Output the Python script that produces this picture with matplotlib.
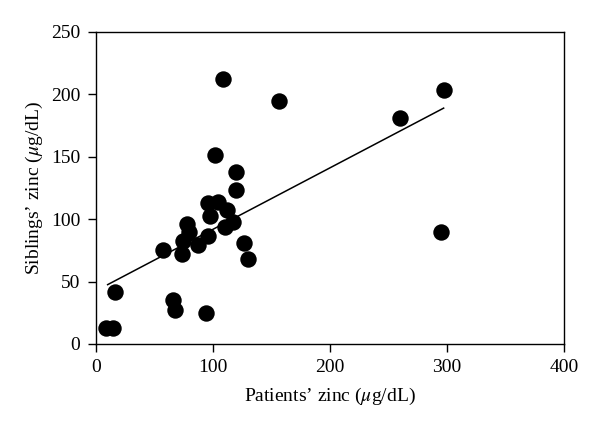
import numpy as np
import matplotlib
matplotlib.use("Agg")
from matplotlib import pyplot as plt

plt.rcParams['font.family'] = ['Liberation Serif', 'DejaVu Serif']
plt.rcParams['mathtext.fontset'] = 'stix'

# patients' zinc vs siblings' zinc (ug/dL)
patients = [9, 15, 16.5, 57.7, 65.7, 67.7, 73.4, 74.8, 78.2, 79.6, 87.6,
            93.9, 96.1, 96.1, 97.6, 101.8, 104.7, 108.9, 110.4, 111.8,
            117.5, 119.8, 119.8, 126.6, 130.3, 156.7, 260, 295, 297]
siblings = [13, 13, 42, 75, 35.3, 27.5, 72, 82.3, 96.2, 89.3, 79,
            25, 86.6, 113.2, 102.6, 151, 114, 212.3, 93.5, 107.4,
            98, 138, 123, 80.7, 68, 194.5, 180.5, 89.7, 203.3]

# regression line end points
fit_x = [10.2, 297]
fit_y = [47.5, 188.8]

fig = plt.figure(figsize=(6, 4.28), dpi=100)
ax = fig.add_axes([0.1595, 0.1963, 0.781, 0.7297])

ax.scatter(patients, siblings, s=140, color='black', zorder=3, linewidths=0)
ax.plot(fit_x, fit_y, color='black', lw=1.1)

ax.set_xlim(0, 400)
ax.set_ylim(0, 250)
ax.set_xticks([0, 100, 200, 300, 400])
ax.set_yticks([0, 50, 100, 150, 200, 250])
ax.tick_params(direction='out', length=6, width=1, labelsize=14, pad=5)
for sp in ax.spines.values():
    sp.set_linewidth(1)

ax.set_xlabel('Patients\u2019 zinc ($\\mu$g/dL)', fontsize=14, labelpad=7)
ax.set_ylabel('Siblings\u2019 zinc ($\\mu$g/dL)', fontsize=14, labelpad=4)

fig.savefig('out.png', dpi=100)
